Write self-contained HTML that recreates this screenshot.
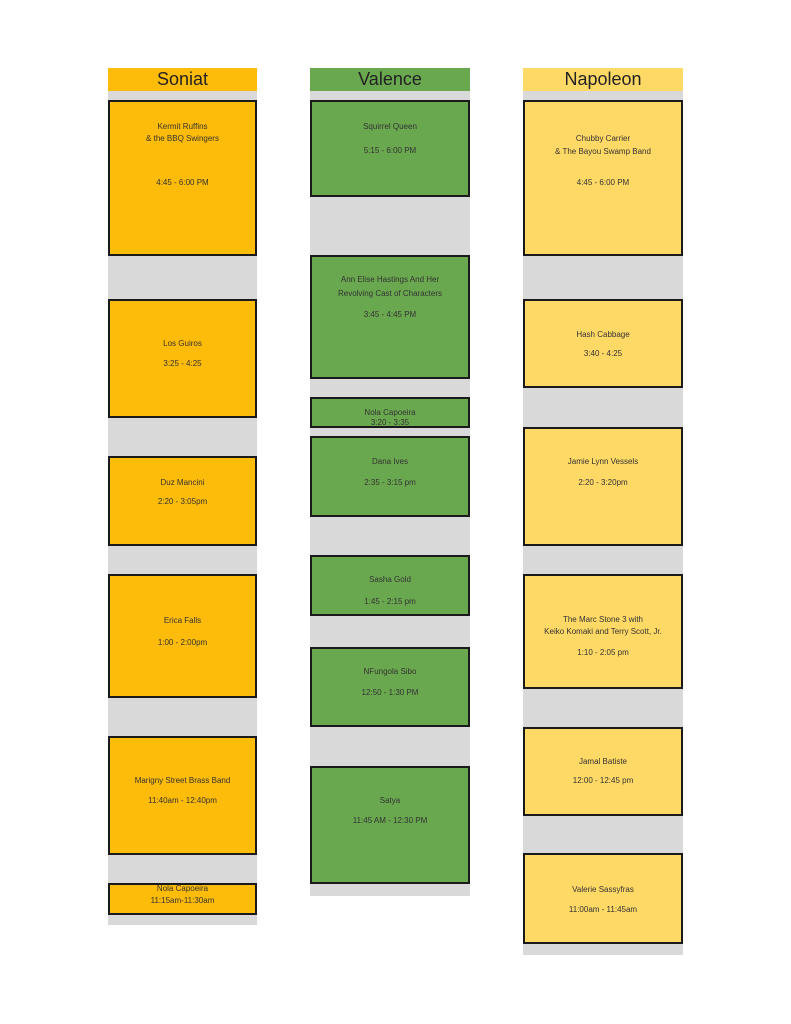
<!DOCTYPE html>
<html><head><style>
body{margin:0;width:791px;height:1024px;background:#fff;position:relative;overflow:hidden;font-family:"Liberation Sans",sans-serif;}
div{position:absolute;box-sizing:border-box;}
.h{height:23px;top:68px;font-size:18px;text-align:center;line-height:23px;color:#222;}
.g{background:#d9d9d9;}
.b{border:2px solid #1a1a1a;}
.o{background:#fdbb0a}.gr{background:#6aa84f}.y{background:#ffd966}
.t{font-size:8px;color:#333;text-align:center;height:10px;line-height:10px;white-space:nowrap;}
</style></head><body>
<div class="h o" style="left:108px;width:149px">Soniat</div>
<div class="h gr" style="left:310px;width:160px">Valence</div>
<div class="h y" style="left:523px;width:160px">Napoleon</div>
<div class="g" style="left:108px;top:91px;width:149px;height:834px"></div>
<div class="g" style="left:310px;top:91px;width:160px;height:805px"></div>
<div class="g" style="left:523px;top:91px;width:160px;height:864px"></div>

<div class="b o" style="left:108px;width:149px;top:100px;height:156px"></div>
<div class="b o" style="left:108px;width:149px;top:299px;height:119px"></div>
<div class="b o" style="left:108px;width:149px;top:456px;height:90px"></div>
<div class="b o" style="left:108px;width:149px;top:574px;height:124px"></div>
<div class="b o" style="left:108px;width:149px;top:736px;height:119px"></div>
<div class="b o" style="left:108px;width:149px;top:883px;height:32px"></div>

<div class="b gr" style="left:310px;width:160px;top:100px;height:97px"></div>
<div class="b gr" style="left:310px;width:160px;top:255px;height:124px"></div>
<div class="b gr" style="left:310px;width:160px;top:397px;height:31px"></div>
<div class="b gr" style="left:310px;width:160px;top:436px;height:81px"></div>
<div class="b gr" style="left:310px;width:160px;top:555px;height:61px"></div>
<div class="b gr" style="left:310px;width:160px;top:647px;height:80px"></div>
<div class="b gr" style="left:310px;width:160px;top:766px;height:118px"></div>

<div class="b y" style="left:523px;width:160px;top:100px;height:156px"></div>
<div class="b y" style="left:523px;width:160px;top:299px;height:89px"></div>
<div class="b y" style="left:523px;width:160px;top:427px;height:119px"></div>
<div class="b y" style="left:523px;width:160px;top:574px;height:115px"></div>
<div class="b y" style="left:523px;width:160px;top:727px;height:89px"></div>
<div class="b y" style="left:523px;width:160px;top:853px;height:91px"></div>

<div class="t" style="left:108px;width:149px;top:122px">Kermit Ruffins</div>
<div class="t" style="left:108px;width:149px;top:134px">&amp; the BBQ Swingers</div>
<div class="t" style="left:108px;width:149px;top:178px">4:45 - 6:00 PM</div>
<div class="t" style="left:108px;width:149px;top:339px">Los Guiros</div>
<div class="t" style="left:108px;width:149px;top:359px">3:25 - 4:25</div>
<div class="t" style="left:108px;width:149px;top:478px">Duz Mancini</div>
<div class="t" style="left:108px;width:149px;top:497px">2:20 - 3:05pm</div>
<div class="t" style="left:108px;width:149px;top:616px">Erica Falls</div>
<div class="t" style="left:108px;width:149px;top:638px">1:00 - 2:00pm</div>
<div class="t" style="left:108px;width:149px;top:776px">Marigny Street Brass Band</div>
<div class="t" style="left:108px;width:149px;top:796px">11:40am - 12:40pm</div>
<div class="t" style="left:108px;width:149px;top:884px">Nola Capoeira</div>
<div class="t" style="left:108px;width:149px;top:896px">11:15am-11:30am</div>

<div class="t" style="left:310px;width:160px;top:122px">Squirrel Queen</div>
<div class="t" style="left:310px;width:160px;top:146px">5:15 - 6:00 PM</div>
<div class="t" style="left:310px;width:160px;top:275px">Ann Elise Hastings And Her</div>
<div class="t" style="left:310px;width:160px;top:289px">Revolving Cast of Characters</div>
<div class="t" style="left:310px;width:160px;top:310px">3:45 - 4:45 PM</div>
<div class="t" style="left:310px;width:160px;top:408px">Nola Capoeira</div>
<div class="t" style="left:310px;width:160px;top:418px">3:20 - 3:35</div>
<div class="t" style="left:310px;width:160px;top:457px">Dana Ives</div>
<div class="t" style="left:310px;width:160px;top:478px">2:35 - 3:15 pm</div>
<div class="t" style="left:310px;width:160px;top:575px">Sasha Gold</div>
<div class="t" style="left:310px;width:160px;top:597px">1:45 - 2:15 pm</div>
<div class="t" style="left:310px;width:160px;top:667px">NFungola Sibo</div>
<div class="t" style="left:310px;width:160px;top:688px">12:50 - 1:30 PM</div>
<div class="t" style="left:310px;width:160px;top:796px">Satya</div>
<div class="t" style="left:310px;width:160px;top:816px">11:45 AM - 12:30 PM</div>

<div class="t" style="left:523px;width:160px;top:134px">Chubby Carrier</div>
<div class="t" style="left:523px;width:160px;top:147px">&amp; The Bayou Swamp Band</div>
<div class="t" style="left:523px;width:160px;top:178px">4:45 - 6:00 PM</div>
<div class="t" style="left:523px;width:160px;top:330px">Hash Cabbage</div>
<div class="t" style="left:523px;width:160px;top:349px">3:40 - 4:25</div>
<div class="t" style="left:523px;width:160px;top:457px">Jamie Lynn Vessels</div>
<div class="t" style="left:523px;width:160px;top:478px">2:20 - 3:20pm</div>
<div class="t" style="left:523px;width:160px;top:615px">The Marc Stone 3 with</div>
<div class="t" style="left:523px;width:160px;top:627px">Keiko Komaki and Terry Scott, Jr.</div>
<div class="t" style="left:523px;width:160px;top:648px">1:10 - 2:05 pm</div>
<div class="t" style="left:523px;width:160px;top:757px">Jamal Batiste</div>
<div class="t" style="left:523px;width:160px;top:776px">12:00 - 12:45 pm</div>
<div class="t" style="left:523px;width:160px;top:885px">Valerie Sassyfras</div>
<div class="t" style="left:523px;width:160px;top:905px">11:00am - 11:45am</div>
</body></html>
